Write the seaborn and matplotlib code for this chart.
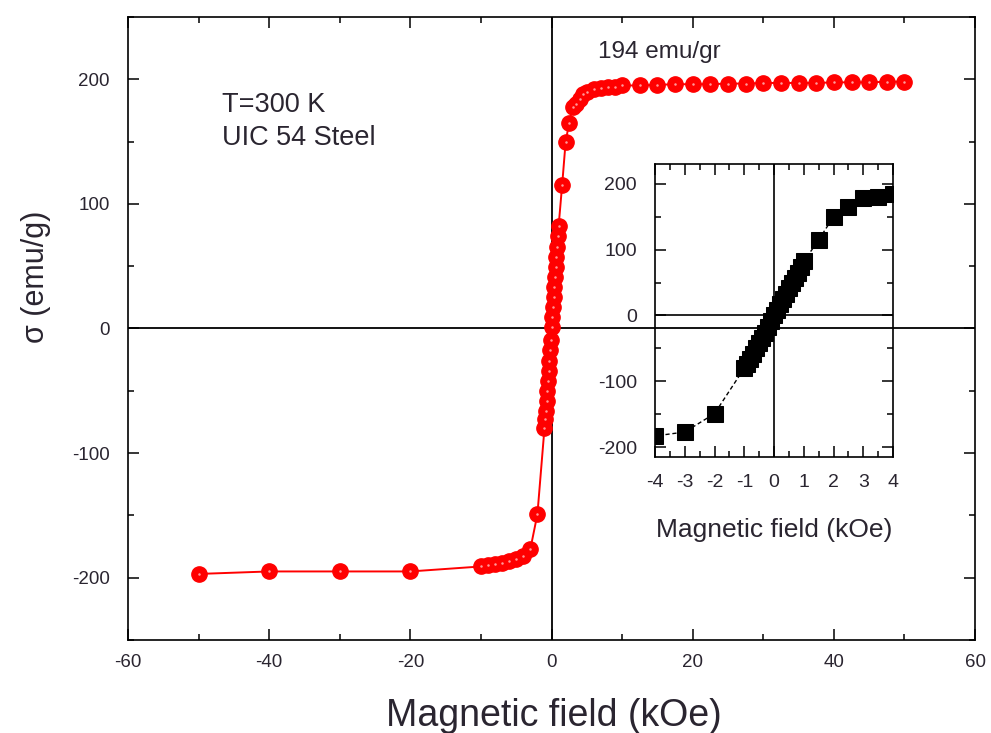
"""Magnetisation curve of UIC 54 steel at 300 K with low-field inset."""

import matplotlib.pyplot as plt
import matplotlib.ticker as mticker
import pandas as pd
import seaborn as sns

# field in kOe, sigma in emu/g (one sweep)
field_neg = [-50, -40, -30, -20, -10, -9, -8, -7, -6, -5, -4, -3, -2]
sigma_neg = [-197, -195, -195, -195, -191, -190, -189, -188, -187, -185, -183, -177, -149]

field_low = [-1.0, -0.9, -0.8, -0.7, -0.6, -0.5, -0.4, -0.3, -0.2, -0.1, 0.0,
             0.1, 0.2, 0.3, 0.4, 0.5, 0.6, 0.7, 0.8, 0.9, 1.0]
sigma_low = [-80, -73, -66, -58, -50, -42, -34, -26, -17, -9, 1,
             9, 17, 25, 33, 41, 49, 57, 65, 74, 82]

field_pos = [1.5, 2.0, 2.5, 3.0, 3.5, 4.0, 4.5, 5, 6, 7, 8, 9, 10,
             12.5, 15, 17.5, 20, 22.5, 25, 27.5, 30, 32.5, 35, 37.5, 40,
             42.5, 45, 47.5, 50]
sigma_pos = [115, 150, 165, 178, 180, 184, 188, 190, 192, 193, 194, 194, 195,
             195, 195.5, 196, 196, 196, 196.5, 196.5, 197, 197, 197, 197, 197.5,
             197.5, 197.5, 198, 198]

main_xticks = [-60, -40, -20, 0, 20, 40, 60]
main_yticks = [-200, -100, 0, 100, 200]
inset_xticks = [-4, -3, -2, -1, 0, 1, 2, 3, 4]
inset_yticks = [-200, -100, 0, 100, 200]

curve = pd.DataFrame({
    "field": field_neg + field_low + field_pos,
    "sigma": sigma_neg + sigma_low + sigma_pos,
})

sns.set_theme(style="white")
plt.rcParams["font.family"] = ["Liberation Sans", "DejaVu Sans"]
plt.rcParams["axes.unicode_minus"] = False
text_color = "#2a2530"


def style_axes(ax, xminor, yminor, xpad, ypad, size):
    for spine in ax.spines.values():
        spine.set_visible(True)
        spine.set_color("black")
        spine.set_linewidth(1.2)
    ax.xaxis.set_minor_locator(mticker.MultipleLocator(xminor))
    ax.yaxis.set_minor_locator(mticker.MultipleLocator(yminor))
    ax.tick_params(which="both", direction="in", top=True, right=True,
                   bottom=True, left=True, color="black", width=1.1,
                   labelcolor=text_color)
    ax.tick_params(which="major", length=8)
    ax.tick_params(which="minor", length=4)
    ax.tick_params(axis="x", which="major", pad=xpad, labelsize=size)
    ax.tick_params(axis="y", which="major", pad=ypad, labelsize=size)


fig = plt.figure(figsize=(9.91, 7.33), dpi=100)
ax = fig.add_axes([0.1292, 0.1269, 0.8547, 0.8500])

ax.axhline(0, color="black", lw=1.3, zorder=1)
ax.axvline(0, color="black", lw=1.3, zorder=1)
sns.lineplot(data=curve, x="field", y="sigma", ax=ax, sort=False, estimator=None,
             color="red", lw=1.4, marker="o", markersize=11,
             markerfacecolor="red", markeredgecolor="red", markeredgewidth=1,
             zorder=3)
ax.plot(curve["field"], curve["sigma"], ls="none", marker="o", markersize=1.8,
        color="#ff9a9a", markeredgewidth=0, zorder=4)

ax.set_xlim(-60, 60)
ax.set_ylim(-250, 250)
ax.set_xticks(main_xticks)
ax.set_yticks(main_yticks)
ax.set_xlabel("")
ax.set_ylabel("")
style_axes(ax, 10, 50, 10, 13, 13.5)

ax.text(0.111, 0.8475, "T=300 K", transform=ax.transAxes, fontsize=19.5,
        color=text_color, va="baseline")
ax.text(0.111, 0.7945, "UIC 54 Steel", transform=ax.transAxes, fontsize=19.5,
        color=text_color, va="baseline")
ax.text(0.555, 0.934, "194 emu/gr", transform=ax.transAxes, fontsize=17.5,
        color=text_color, va="baseline")

fig.text(0.036, 1 - 277 / 733, "\u03c3 (emu/g)", rotation=90, ha="center",
         va="center", fontsize=22, color=text_color)
fig.text(0.559, 7 / 733, "Magnetic field (kOe)", ha="center", va="baseline",
         fontsize=27, color=text_color)

# low-field inset, transparent so the main zero line shows through
inset = fig.add_axes([0.661, 0.3765, 0.2402, 0.3997])
inset.set_facecolor("none")
inset.axhline(0, color="black", lw=1.2, zorder=1)
inset.axvline(0, color="black", lw=1.2, zorder=1)
sns.lineplot(data=curve, x="field", y="sigma", ax=inset, sort=False,
             estimator=None, color="black", lw=1, linestyle=(0, (3, 2)),
             marker="s", markersize=11, markeredgecolor="black", zorder=3)
inset.set_xlim(-4, 4)
inset.set_ylim(-215, 230)
inset.set_xticks(inset_xticks)
inset.set_yticks(inset_yticks)
inset.set_ylabel("")
style_axes(inset, 0.5, 50, 12, 13, 14)
inset.set_xlabel("Magnetic field (kOe)", fontsize=19, color=text_color, labelpad=20)

fig.savefig("out.png", dpi=100)
